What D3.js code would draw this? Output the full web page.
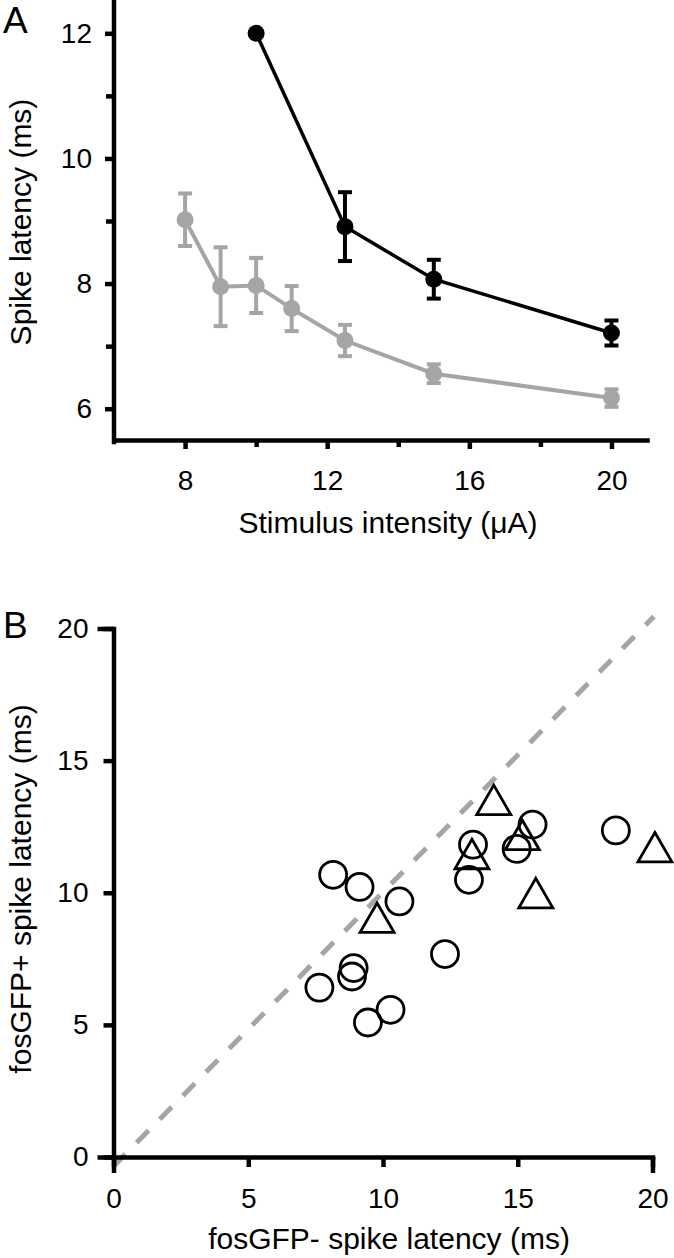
<!DOCTYPE html>
<html>
<head>
<meta charset="utf-8">
<script src="https://cdn.jsdelivr.net/npm/d3@7"></script>
<style>
  html, body { margin: 0; padding: 0; background: #fff; }
  svg { display: block; }
  text { font-family: Arial, "Liberation Sans", Helvetica, sans-serif; fill: #000; }
</style>
</head>
<body>
<svg id="chart" width="674" height="1258"></svg>
<script>
// ---------- Panel A data ----------
const intensityGrey = [8, 9, 10, 11, 12.5, 15, 20];
const latencyGrey   = [9.02, 7.95, 7.97, 7.60, 7.09, 6.56, 6.17];
const semGrey       = [0.42, 0.63, 0.44, 0.36, 0.25, 0.15, 0.14];

const intensityBlack = [10, 12.5, 15, 20];
const latencyBlack   = [12.0, 8.91, 8.07, 7.21];
const semBlack       = [0, 0.55, 0.31, 0.20];

const aYTicks = [6, 8, 10, 12];
const aYMinor = [7, 9, 11];
const aXTicks = [8, 12, 16, 20];
const aXMinor = [10, 14, 18];

// ---------- Panel B data ----------
const circleNeg = [8.15, 9.13, 10.61, 13.34, 13.19, 14.96, 15.55, 18.64, 12.3, 8.91, 8.85, 7.64, 10.28, 9.44];
const circlePos = [10.68, 10.22, 9.67, 11.82, 10.49, 11.66, 12.58, 12.36, 7.68, 7.15, 6.83, 6.41, 5.57, 5.09];
const triNeg = [9.78, 14.11, 15.17, 13.3, 20.09, 15.67];
const triPos = [8.87, 13.33, 12.0, 11.28, 11.54, 9.8];
const unityLine = [[0, -0.35], [20.05, 20.45]];
const bTicks = [0, 5, 10, 15, 20];
const bEndTicks = [0, 20];

const GREY = "#a5a5a5";
const AXW = 4.5;
const svg = d3.select("#chart");

function styleAxis(g, width) {
  g.select(".domain").attr("stroke", "#000").attr("stroke-width", width).attr("stroke-linecap", "square");
  g.selectAll(".tick line").attr("stroke", "#000").attr("stroke-width", width);
  g.selectAll(".tick text").attr("font-size", 28).attr("fill", "#000");
}

// ================= Panel A =================
const xA = d3.scaleLinear().domain([6, 21]).range([114, 647]);
const yA = d3.scaleLinear().domain([5.5, 12.5]).range([440, 2]);

const gA = svg.append("g");

const lineA = d3.line().x(d => xA(d[0])).y(d => yA(d[1]));
const greyPts = intensityGrey.map((x, i) => [x, latencyGrey[i], semGrey[i]]);
const blackPts = intensityBlack.map((x, i) => [x, latencyBlack[i], semBlack[i]]);

function drawSeries(pts, color, lw) {
  const g = gA.append("g");
  g.append("path").datum(pts).attr("d", lineA).attr("fill", "none")
    .attr("stroke", color).attr("stroke-width", lw);
  const eb = g.selectAll("g.eb").data(pts.filter(d => d[2] > 0)).join("g");
  eb.append("line").attr("x1", d => xA(d[0])).attr("x2", d => xA(d[0]))
    .attr("y1", d => yA(d[1] + d[2])).attr("y2", d => yA(d[1] - d[2]))
    .attr("stroke", color).attr("stroke-width", 4);
  eb.append("line").attr("x1", d => xA(d[0]) - 7).attr("x2", d => xA(d[0]) + 7)
    .attr("y1", d => yA(d[1] + d[2])).attr("y2", d => yA(d[1] + d[2]))
    .attr("stroke", color).attr("stroke-width", 4);
  eb.append("line").attr("x1", d => xA(d[0]) - 7).attr("x2", d => xA(d[0]) + 7)
    .attr("y1", d => yA(d[1] - d[2])).attr("y2", d => yA(d[1] - d[2]))
    .attr("stroke", color).attr("stroke-width", 4);
  g.selectAll("circle").data(pts).join("circle")
    .attr("cx", d => xA(d[0])).attr("cy", d => yA(d[1])).attr("r", 8.5).attr("fill", color);
}
drawSeries(greyPts, GREY, 4);
drawSeries(blackPts, "#000", 3.5);

// axes A
const yAxisA = gA.append("g").attr("transform", `translate(${xA(6)},0)`)
  .call(d3.axisLeft(yA).tickValues(aYTicks).tickFormat(d3.format("d")).tickSize(9).tickPadding(13).tickSizeOuter(0));
styleAxis(yAxisA, AXW);
yAxisA.select(".domain").attr("d", `M0,${yA(5.5) + 2}V0`);
const yAxisAMinor = gA.append("g").attr("transform", `translate(${xA(6)},0)`)
  .call(d3.axisLeft(yA).tickValues(aYMinor).tickFormat("").tickSize(8).tickSizeOuter(0));
styleAxis(yAxisAMinor, AXW);
yAxisAMinor.select(".domain").remove();

const xAxisA = gA.append("g").attr("transform", `translate(0,${yA(5.5)})`)
  .call(d3.axisBottom(xA).tickValues(aXTicks).tickFormat(d3.format("d")).tickSize(9).tickPadding(21).tickSizeOuter(0));
styleAxis(xAxisA, AXW);
const xAxisAMinor = gA.append("g").attr("transform", `translate(0,${yA(5.5)})`)
  .call(d3.axisBottom(xA).tickValues(aXMinor).tickFormat("").tickSize(7).tickSizeOuter(0));
styleAxis(xAxisAMinor, AXW);
xAxisAMinor.select(".domain").remove();

gA.append("text").attr("x", 388).attr("y", 533).attr("text-anchor", "middle")
  .attr("font-size", 30).text("Stimulus intensity (μA)");
gA.append("text").attr("transform", "translate(31,222) rotate(-90)").attr("text-anchor", "middle")
  .attr("font-size", 30).text("Spike latency (ms)");
gA.append("text").attr("x", 3).attr("y", 33).attr("font-size", 37).text("A");

// ================= Panel B =================
const xB = d3.scaleLinear().domain([0, 20]).range([113.5, 652.5]);
const yB = d3.scaleLinear().domain([0, 20]).range([1157, 628.5]);
const gB = svg.append("g");

gB.append("path").datum(unityLine)
  .attr("d", d3.line().x(d => xB(d[0])).y(d => yB(d[1])))
  .attr("fill", "none").attr("stroke", GREY).attr("stroke-width", 5)
  .attr("stroke-dasharray", "17,16");

const circData = circleNeg.map((x, i) => [x, circlePos[i]]);
gB.selectAll("circle.pt").data(circData).join("circle").attr("class", "pt")
  .attr("cx", d => xB(d[0])).attr("cy", d => yB(d[1])).attr("r", 13.5)
  .attr("fill", "none").attr("stroke", "#000").attr("stroke-width", 2.8);

const triData = triNeg.map((x, i) => [x, triPos[i]]);
const triSym = d3.symbol().type(d3.symbolTriangle).size(500);
gB.selectAll("path.tri").data(triData).join("path").attr("class", "tri")
  .attr("transform", d => `translate(${xB(d[0])},${yB(d[1])})`)
  .attr("d", triSym).attr("fill", "none").attr("stroke", "#000").attr("stroke-width", 2.8)
  .attr("stroke-linejoin", "miter");

const yAxisB = gB.append("g").attr("transform", `translate(${xB(0)},0)`)
  .call(d3.axisLeft(yB).tickValues(bTicks).tickFormat(d3.format("d")).tickSize(10).tickPadding(15).tickSizeOuter(0));
styleAxis(yAxisB, AXW);
const yAxisBEnd = gB.append("g").attr("transform", `translate(${xB(0)},0)`)
  .call(d3.axisLeft(yB).tickValues(bEndTicks).tickFormat("").tickSize(16).tickSizeOuter(0));
styleAxis(yAxisBEnd, AXW);
yAxisBEnd.select(".domain").remove();

const xAxisB = gB.append("g").attr("transform", `translate(0,${yB(0)})`)
  .call(d3.axisBottom(xB).tickValues(bTicks).tickFormat(d3.format("d")).tickSize(10).tickPadding(21).tickSizeOuter(0));
styleAxis(xAxisB, AXW);
const xAxisBEnd = gB.append("g").attr("transform", `translate(0,${yB(0)})`)
  .call(d3.axisBottom(xB).tickValues(bEndTicks).tickFormat("").tickSize(16).tickSizeOuter(0));
styleAxis(xAxisBEnd, AXW);
xAxisBEnd.select(".domain").remove();

gB.append("text").attr("x", 389).attr("y", 1249).attr("text-anchor", "middle")
  .attr("font-size", 30).text("fosGFP- spike latency (ms)");
gB.append("text").attr("transform", "translate(31,889) rotate(-90)").attr("text-anchor", "middle")
  .attr("font-size", 30).text("fosGFP+ spike latency (ms)");
gB.append("text").attr("x", 3).attr("y", 638).attr("font-size", 37).text("B");
</script>
</body>
</html>
